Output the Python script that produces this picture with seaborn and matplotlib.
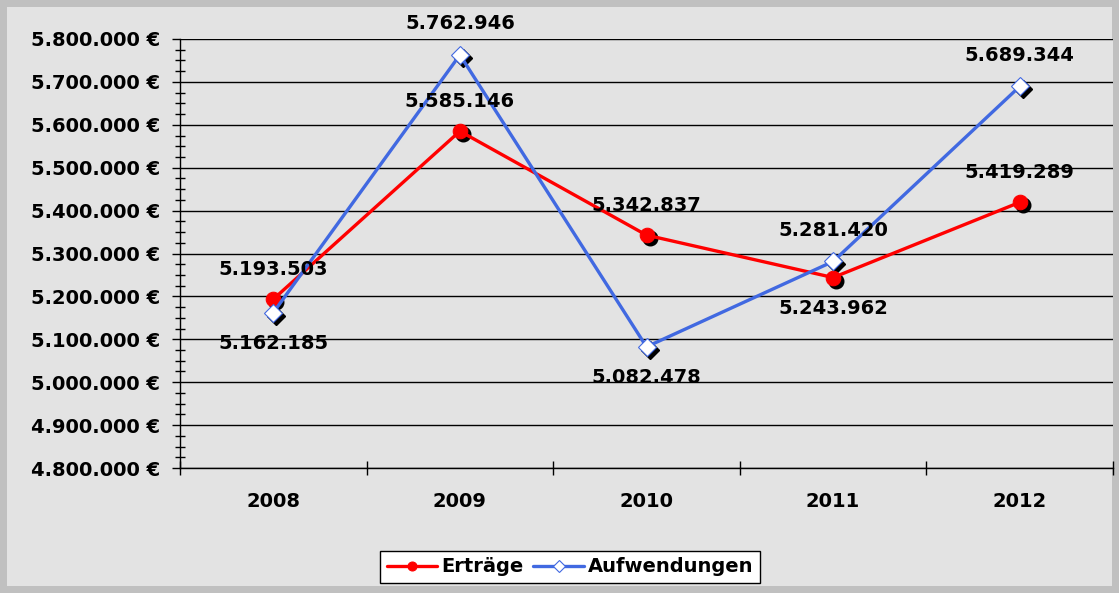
import matplotlib
matplotlib.use("Agg")
import matplotlib.pyplot as plt
import matplotlib.transforms as mtransforms
from matplotlib.patches import Rectangle
from matplotlib.ticker import MultipleLocator, FuncFormatter
import seaborn as sns
import pandas as pd

years = ["2008", "2009", "2010", "2011", "2012"]
ertraege = [5193503, 5585146, 5342837, 5243962, 5419289]
aufwendungen = [5162185, 5762946, 5082478, 5281420, 5689344]
ertraege_label_pos = ["above", "above", "above", "below", "above"]
aufw_label_pos = ["below", "above", "below", "above", "above"]

sns.set_theme(style="white")
plt.rcParams['font.family'] = ['DejaVu Sans']
plt.rcParams['text.color'] = 'black'
plt.rcParams['xtick.color'] = 'black'
plt.rcParams['ytick.color'] = 'black'
plt.rcParams['xtick.labelcolor'] = 'black'
plt.rcParams['ytick.labelcolor'] = 'black'

BG = "#e3e3e3"
FS = 14
fig = plt.figure(figsize=(11.19, 5.93), dpi=100, facecolor="#c0c0c0")
fig.patches.append(Rectangle((7/1119, 7/593), 1 - 14/1119, 1 - 14/593,
                             transform=fig.transFigure, facecolor=BG,
                             edgecolor="none", zorder=-10))
ax = fig.add_axes([180/1119, 1 - 468/593, (1113-180)/1119, (468-39)/593])
ax.set_facecolor(BG)

df = pd.DataFrame({"x": list(range(len(years))) * 2,
                   "value": ertraege + aufwendungen,
                   "series": ["Erträge"] * len(years) + ["Aufwendungen"] * len(years)})

red = "#ff0000"
blue = "#4169e1"

# shadows
shadow = mtransforms.offset_copy(ax.transData, fig=fig, x=3, y=-3, units="dots")
x = list(range(len(years)))
ax.plot(x, ertraege, linestyle="none", marker="o", markersize=10.5, color="black",
        transform=shadow, zorder=3)
ax.plot(x, aufwendungen, linestyle="none", marker="D", markersize=9.5, color="black",
        transform=shadow, zorder=3)

sns.lineplot(data=df[df.series == "Erträge"], x="x", y="value", ax=ax, color=red,
             linewidth=2.4, marker="o", markersize=10.5, markeredgecolor=red,
             markerfacecolor=red, label="Erträge", zorder=4)
sns.lineplot(data=df[df.series == "Aufwendungen"], x="x", y="value", ax=ax, color=blue,
             linewidth=2.4, marker="D", markersize=9.5, markeredgecolor=blue,
             markerfacecolor="white", markeredgewidth=0.8, label="Aufwendungen", zorder=5)

def fmt(v):
    return f"{v:,.0f}".replace(",", ".")

for xi, v, p in zip(x, ertraege, ertraege_label_pos):
    ax.annotate(fmt(v), (xi, v), xytext=(0, 30 if p == "above" else -31),
                textcoords="offset pixels",
                ha="center", va="center", fontsize=FS, fontweight="bold", color="black", zorder=6)
for xi, v, p in zip(x, aufwendungen, aufw_label_pos):
    ax.annotate(fmt(v), (xi, v), xytext=(0, 31 if p == "above" else -31),
                textcoords="offset pixels",
                ha="center", va="center", fontsize=FS, fontweight="bold", color="black", zorder=6,
                annotation_clip=False)

ax.set_xlim(-0.5, 4.5)
ax.set_ylim(4800000, 5800000)
ax.yaxis.set_major_locator(MultipleLocator(100000))
ax.yaxis.set_minor_locator(MultipleLocator(25000))
ax.yaxis.set_major_formatter(FuncFormatter(lambda v, p: fmt(v) + " €"))
ax.set_xticks(x)
ax.set_xticklabels(years)
ax.set_xticks([i + 0.5 for i in range(-1, 5)], minor=True)
ax.tick_params(axis="x", which="major", length=0, pad=17, labelsize=FS)
ax.tick_params(axis="x", which="minor", length=10, width=1, color="black", direction="inout", bottom=True)
ax.tick_params(axis="y", which="major", length=6, width=1, color="black", direction="out", left=True, labelsize=FS, pad=8.5)
ax.tick_params(axis="y", which="minor", length=7.5, width=1, color="black", direction="inout", left=True)
for lbl in ax.get_xticklabels() + ax.get_yticklabels():
    lbl.set_fontweight("bold")
ax.set_xlabel("")
ax.set_ylabel("")
ax.grid(axis="y", which="major", color="black", linewidth=1)
ax.set_axisbelow(True)
for s in ["top", "right"]:
    ax.spines[s].set_visible(False)
for s in ["left", "bottom"]:
    ax.spines[s].set_color("black")
    ax.spines[s].set_linewidth(1)

leg = ax.legend(loc="center", bbox_to_anchor=(570/1119, 1 - 567/593), bbox_transform=fig.transFigure,
                ncol=2, frameon=True, fancybox=False, edgecolor="black", facecolor="white",
                framealpha=1, prop={"weight": "bold", "size": FS}, handlelength=2.6,
                handletextpad=0.2, columnspacing=0.5, borderpad=0.35, borderaxespad=0)
leg.get_frame().set_linewidth(1)
for h in leg.legend_handles:
    h.set_markersize(6.5)

fig.savefig("out.png", dpi=100, facecolor=fig.get_facecolor())
